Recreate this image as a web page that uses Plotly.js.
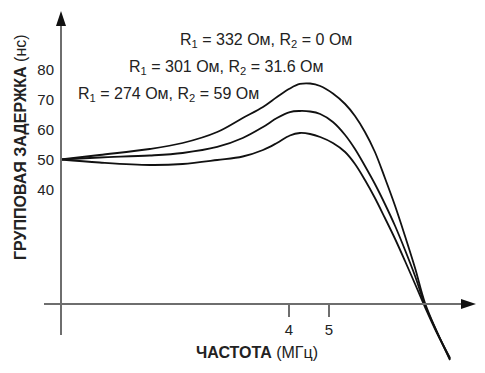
<!DOCTYPE html>
<html>
<head>
<meta charset="utf-8">
<script src="https://cdn.plot.ly/plotly-3.0.1.min.js"></script>
<style>html,body{margin:0;padding:0;background:#fff;}#chart{width:485px;height:373px;}</style>
</head>
<body>
<div id="chart"></div>
<script>
// Frequency, MHz (log scale)
var freq = [1.12, 1.39, 1.84, 2.21, 2.68, 3.09, 3.46, 3.74, 4.02, 4.25, 4.50, 4.76, 5.11, 5.47, 5.78, 6.11, 6.46, 6.83, 7.23, 7.64, 8.08, 8.54, 9.13, 9.82];
// Group delay, ns
var delayR332 = [50, 51.5, 53.5, 55.5, 59.17, 63.83, 67.5, 70.83, 73.67, 75.17, 75.33, 74.5, 72, 68.5, 64.5, 59.17, 52.5, 43.83, 34.5, 24.5, 13.83, 2.17, -7.5, -16.83];
var delayR301 = [50, 50.67, 51.33, 52.17, 54.17, 57.17, 60.83, 63.83, 65.83, 66.17, 66, 65.17, 62.5, 58.17, 53.5, 47.83, 41.83, 35.17, 27.83, 19.83, 11.17, 1.5, -7.5, -16.5];
var delayR274 = [50, 49, 48.17, 48.5, 49.83, 51, 53.17, 55.5, 58, 58.83, 58.5, 57.5, 55.5, 52.5, 48.5, 43.17, 37.17, 30.5, 23.5, 16.17, 8.5, 0.83, -7.83, -16.17];
var seriesLabels = ['R<sub>1</sub> = 332 Ом, R<sub>2</sub> = 0 Ом', 'R<sub>1</sub> = 301 Ом, R<sub>2</sub> = 31.6 Ом', 'R<sub>1</sub> = 274 Ом, R<sub>2</sub> = 59 Ом'];
var yTicks = [40, 50, 60, 70, 80];
var xTicks = [4, 5];
var xTickText = ['4', '5'];
var xTitle = '<b>ЧАСТОТА</b> (МГц)';
var yTitle = '<b>ГРУППОВАЯ ЗАДЕРЖКА</b> (нс)';

var W = 485, H = 373, ML = 44, MR = 10, MT = 10, MB = 8;
var PW = W - ML - MR, PH = H - MT - MB;
function px(x) { return (x - ML) / PW; }
function py(y) { return (H - MB - y) / PH; }

var FONT = '"Liberation Sans", Arial, sans-serif';
var TXT = '#222';
var AX = '#6e6e6e';

function tr(y, name) {
  return {x: freq, y: y, name: name, type: 'scatter', mode: 'lines',
    line: {color: '#111', width: 1.8, shape: 'spline', smoothing: 1},
    hoverinfo: 'skip', showlegend: false};
}
var data = [tr(delayR332, seriesLabels[0]), tr(delayR301, seriesLabels[1]), tr(delayR274, seriesLabels[2])];

var yAxisX = 61, xAxisY = 304;
var shapes = [
  {type: 'line', xref: 'paper', yref: 'paper', x0: px(yAxisX), x1: px(yAxisX), y0: py(22), y1: py(335), line: {color: AX, width: 2}},
  {type: 'line', xref: 'paper', yref: 'paper', x0: px(44), x1: px(466), y0: py(xAxisY), y1: py(xAxisY), line: {color: AX, width: 2}},
  {type: 'path', xref: 'paper', yref: 'paper', fillcolor: '#111', line: {width: 0},
    path: 'M' + px(61) + ',' + py(11) + ' L' + px(56) + ',' + py(26) + ' L' + px(66) + ',' + py(26) + ' Z'},
  {type: 'path', xref: 'paper', yref: 'paper', fillcolor: '#111', line: {width: 0},
    path: 'M' + px(476) + ',' + py(304) + ' L' + px(461) + ',' + py(299) + ' L' + px(461) + ',' + py(309) + ' Z'}
];

var legendPos = [[266, 40], [226, 67], [168, 94]];
var annotations = seriesLabels.map(function (t, i) {
  return {text: t, xref: 'paper', yref: 'paper', x: px(legendPos[i][0]), y: py(legendPos[i][1]),
    xanchor: 'center', yanchor: 'middle', showarrow: false, font: {family: FONT, size: 16, color: TXT}};
});
annotations.push({text: yTitle, xref: 'paper', yref: 'paper', x: px(20), y: py(147), textangle: -90,
  xanchor: 'center', yanchor: 'middle', showarrow: false, font: {family: FONT, size: 16, color: TXT}});
annotations.push({text: xTitle, xref: 'paper', yref: 'paper', x: px(257), y: py(352),
  xanchor: 'center', yanchor: 'middle', showarrow: false, font: {family: FONT, size: 16, color: TXT}});

var xr = [Math.log10(4) + (ML - 289) / 412.8, Math.log10(4) + (W - MR - 289) / 412.8];
var yr = [50 + (159.5 - (H - MB)) / 3, 50 + (159.5 - MT) / 3];

var layout = {
  width: W, height: H,
  margin: {l: ML, r: MR, t: MT, b: MB, pad: 0},
  paper_bgcolor: '#fff', plot_bgcolor: '#fff',
  font: {family: FONT, color: TXT},
  showlegend: false,
  xaxis: {type: 'log', range: xr, anchor: 'free', position: py(xAxisY),
    tickvals: xTicks, ticktext: xTickText, ticks: 'outside', ticklen: 12, tickwidth: 1.2, tickcolor: AX,
    showline: false, showgrid: false, zeroline: false, tickfont: {size: 15, color: TXT}, ticklabelstandoff: 0, fixedrange: true},
  xaxis2: {type: 'log', range: xr, overlaying: 'x', anchor: 'free', position: py(xAxisY), side: 'bottom',
    tickvals: xTicks, ticks: 'inside', ticklen: 11, tickwidth: 1.2, tickcolor: AX,
    showticklabels: false, showline: false, showgrid: false, zeroline: false, fixedrange: true},
  yaxis: {range: yr, anchor: 'free', position: px(yAxisX), side: 'left',
    tickvals: yTicks, ticks: '', showline: false, showgrid: false, zeroline: false,
    tickfont: {size: 15, color: TXT}, ticklabelstandoff: 7, fixedrange: true},
  shapes: shapes,
  annotations: annotations
};

Plotly.newPlot('chart', data, layout, {displayModeBar: false, staticPlot: true});
</script>
</body>
</html>
